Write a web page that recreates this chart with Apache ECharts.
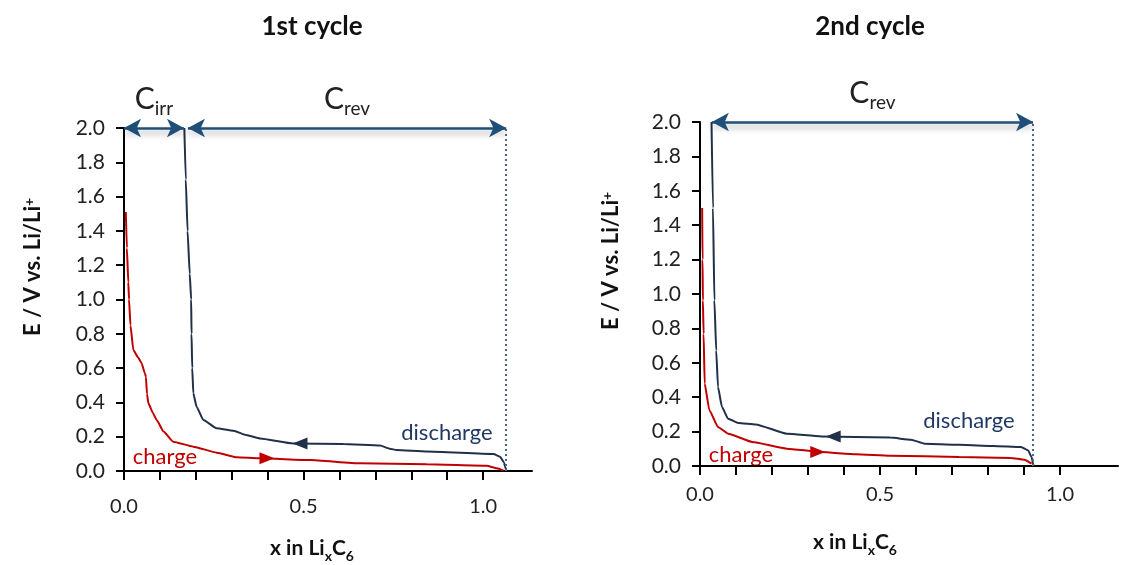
<!DOCTYPE html>
<html>
<head>
<meta charset="utf-8">
<script src="https://cdn.jsdelivr.net/npm/echarts@6/dist/echarts.min.js"></script>
<style>
  html, body { margin: 0; background: #fff; }
  #chart { width: 1126px; height: 565px; }
</style>
</head>
<body>
<div id="chart"></div>
<script>
// 1st cycle, [x in LixC6, E / V]
const charge1 = [
  [0.005, 1.51], [0.008, 1.3], [0.012, 1.1], [0.014, 1.0], [0.018, 0.85], [0.026, 0.705],
  [0.04, 0.66], [0.049, 0.628], [0.058, 0.57], [0.061, 0.55], [0.064, 0.45], [0.068, 0.395],
  [0.08, 0.34], [0.091, 0.297], [0.11, 0.23], [0.137, 0.171], [0.193, 0.142], [0.258, 0.107],
  [0.314, 0.08], [0.379, 0.074], [0.518, 0.064], [0.657, 0.045], [0.843, 0.039], [1.01, 0.031],
  [1.038, 0.016], [1.057, 0.002]
];
const discharge1 = [
  [0.168, 2.0], [0.172, 1.7], [0.177, 1.4], [0.183, 1.15], [0.187, 1.0], [0.188, 0.8], [0.19, 0.6],
  [0.193, 0.453], [0.202, 0.375], [0.221, 0.297], [0.258, 0.249], [0.305, 0.235], [0.34, 0.21],
  [0.379, 0.19], [0.471, 0.161], [0.611, 0.157], [0.713, 0.148], [0.74, 0.13], [0.759, 0.122],
  [0.843, 0.113], [1.029, 0.099], [1.047, 0.083], [1.058, 0.05], [1.061, 0.025], [1.065, 0]
];
// 2nd cycle
const charge2 = [
  [0.006, 1.5], [0.007, 1.2], [0.008, 0.963], [0.01, 0.769], [0.013, 0.479], [0.026, 0.324],
  [0.05, 0.227], [0.078, 0.188], [0.145, 0.14], [0.241, 0.101], [0.337, 0.081], [0.433, 0.068],
  [0.528, 0.06], [0.72, 0.052], [0.863, 0.047], [0.901, 0.037], [0.921, 0.014]
];
const discharge2 = [
  [0.032, 2.0], [0.036, 1.5], [0.04, 0.963], [0.045, 0.672], [0.05, 0.459], [0.061, 0.343],
  [0.078, 0.275], [0.107, 0.25], [0.155, 0.242], [0.241, 0.188], [0.337, 0.172], [0.528, 0.165],
  [0.586, 0.153], [0.624, 0.13], [0.815, 0.116], [0.892, 0.11], [0.911, 0.091], [0.921, 0.052],
  [0.925, 0.014], [0.927, 0]
];

// capacity markers
const cIrrEnd1 = 0.167;
const cRevStart1 = 0.178;
const cRevEnd1 = 1.064;
const cRevStart2 = 0.033;
const cRevEnd2 = 0.925;

// direction arrows on the curves
const chargeArrow1 = [0.398, 0.074];
const dischargeArrow1 = [0.49, 0.16];
const chargeArrow2 = [0.327, 0.081];
const dischargeArrow2 = [0.37, 0.172];

const xTicks = [0, 0.1, 0.2, 0.3, 0.4, 0.5, 0.6, 0.7, 0.8, 0.9, 1.0];
const xLabels = [0, 0.5, 1.0];

const red = "#c00000";
const navy = "#1f3048";
const arrowBlue = "#1f4e79";
const font = "Lato";

const chart = echarts.init(document.getElementById("chart"), null, { renderer: "canvas" });

function xAxis(gridIndex, max, margin) {
  return {
    type: "value",
    gridIndex,
    min: 0,
    max,
    axisLine: { lineStyle: { color: "#000", width: 2 } },
    axisTick: { customValues: xTicks, length: 9, lineStyle: { color: "#000", width: 2 } },
    axisLabel: {
      customValues: xLabels,
      margin,
      color: "#222",
      fontFamily: font,
      fontSize: 20,
      formatter: (v) => v.toFixed(1),
    },
    splitLine: { show: false },
  };
}

function yAxis(gridIndex) {
  return {
    type: "value",
    gridIndex,
    min: 0,
    max: 2,
    interval: 0.2,
    axisLine: { show: true, lineStyle: { color: "#000", width: 2 } },
    axisTick: { show: true, length: 8, lineStyle: { color: "#000", width: 2 } },
    axisLabel: { margin: 19, color: "#222", fontFamily: font, fontSize: 21, formatter: (v) => v.toFixed(1) },
    splitLine: { show: false },
  };
}

function capLabel(sub) {
  return {
    show: true,
    position: "insideMiddleTop",
    distance: 14,
    formatter: "{c|C}{s|" + sub + "}",
    rich: {
      c: { fontFamily: font, fontSize: 30, color: "#222", verticalAlign: "bottom" },
      s: { fontFamily: font, fontSize: 19, color: "#222", verticalAlign: "bottom", padding: [0, 0, -4, 0] },
    },
  };
}

function curve(name, data, color, idx, arrow, rotate, marks) {
  return {
    name,
    type: "line",
    xAxisIndex: idx,
    yAxisIndex: idx,
    data,
    smooth: 0.15,
    smoothMonotone: "x",
    showSymbol: false,
    lineStyle: { color, width: 2 },
    markPoint: {
      silent: true,
      symbol: "triangle",
      symbolSize: [12, 15],
      symbolRotate: rotate,
      itemStyle: { color },
      label: { show: false },
      data: [{ coord: arrow }],
    },
    markLine: marks,
    animation: false,
  };
}

function arrowLines(pairs) {
  return {
    silent: true,
    symbol: ["arrow", "arrow"],
    symbolSize: [14, 17],
    lineStyle: {
      color: arrowBlue,
      width: 2.5,
      type: "solid",
      shadowColor: "rgba(0,0,0,0.35)",
      shadowBlur: 6,
      shadowOffsetY: 4,
    },
    data: pairs.map(([a, b, sub]) => [{ coord: [a, 2], label: capLabel(sub) }, { coord: [b, 2] }]),
  };
}

function dottedLine(x) {
  return {
    silent: true,
    symbol: ["none", "none"],
    label: { show: false },
    lineStyle: { color: "#4f6688", width: 2, type: [2, 3] },
    data: [[{ coord: [x, 0] }, { coord: [x, 2] }]],
  };
}

function subText(x, y, parts, size) {
  const big = size || 21;
  return {
    type: "text",
    x,
    y,
    style: {
      text: parts,
      align: "center",
      verticalAlign: "middle",
      rich: {
        b: { fontFamily: font, fontWeight: "bold", fontSize: big, fill: "#111", verticalAlign: "bottom" },
        s: { fontFamily: font, fontWeight: "bold", fontSize: 14, fill: "#111", verticalAlign: "bottom", padding: [0, 0, -5, 0] },
        p: { fontFamily: font, fontWeight: "bold", fontSize: 14, fill: "#111", verticalAlign: "top" },
      },
    },
  };
}

function yName(x, y) {
  const t = subText(x, y, "{b|E / V vs. Li/Li}{p|+}", 22);
  t.rotation = Math.PI / 2;
  return t;
}

function plainText(x, y, text, color, size, weight) {
  return {
    type: "text",
    x,
    y,
    style: {
      text,
      align: "center",
      verticalAlign: "middle",
      fill: color,
      font: (weight || "normal") + " " + size + "px " + font,
    },
  };
}

chart.setOption({
  backgroundColor: "#fff",
  animation: false,
  grid: [
    { left: 124, top: 128, width: 408, height: 343 },
    { left: 700, top: 122, width: 418, height: 344 },
  ],
  xAxis: [xAxis(0, 1.136, 26), xAxis(1, 1.161, 19)],
  yAxis: [yAxis(0), yAxis(1)],
  series: [
    curve("charge", charge1, red, 0, chargeArrow1, -90, dottedLine(cRevEnd1)),
    curve("discharge", discharge1, navy, 0, dischargeArrow1, 90,
      arrowLines([[0, cIrrEnd1, "irr"], [cRevStart1, cRevEnd1, "rev"]])),
    curve("charge", charge2, red, 1, chargeArrow2, -90, dottedLine(cRevEnd2)),
    curve("discharge", discharge2, navy, 1, dischargeArrow2, 90,
      arrowLines([[cRevStart2, cRevEnd2, "rev"]])),
  ],
  graphic: [
    plainText(312, 27, "1st cycle", "#111", 26, "bold"),
    plainText(870, 27, "2nd cycle", "#111", 26, "bold"),
    subText(312, 548, "{b|x in Li}{s|x}{b|C}{s|6}"),
    subText(855, 542, "{b|x in Li}{s|x}{b|C}{s|6}"),
    yName(33, 267),
    yName(611, 261),
    plainText(447, 433, "discharge", "#1f3864", 22),
    plainText(165, 457, "charge", red, 22),
    plainText(969, 421, "discharge", "#1f3864", 22),
    plainText(741, 455, "charge", red, 22),
  ],
});
</script>
</body>
</html>
